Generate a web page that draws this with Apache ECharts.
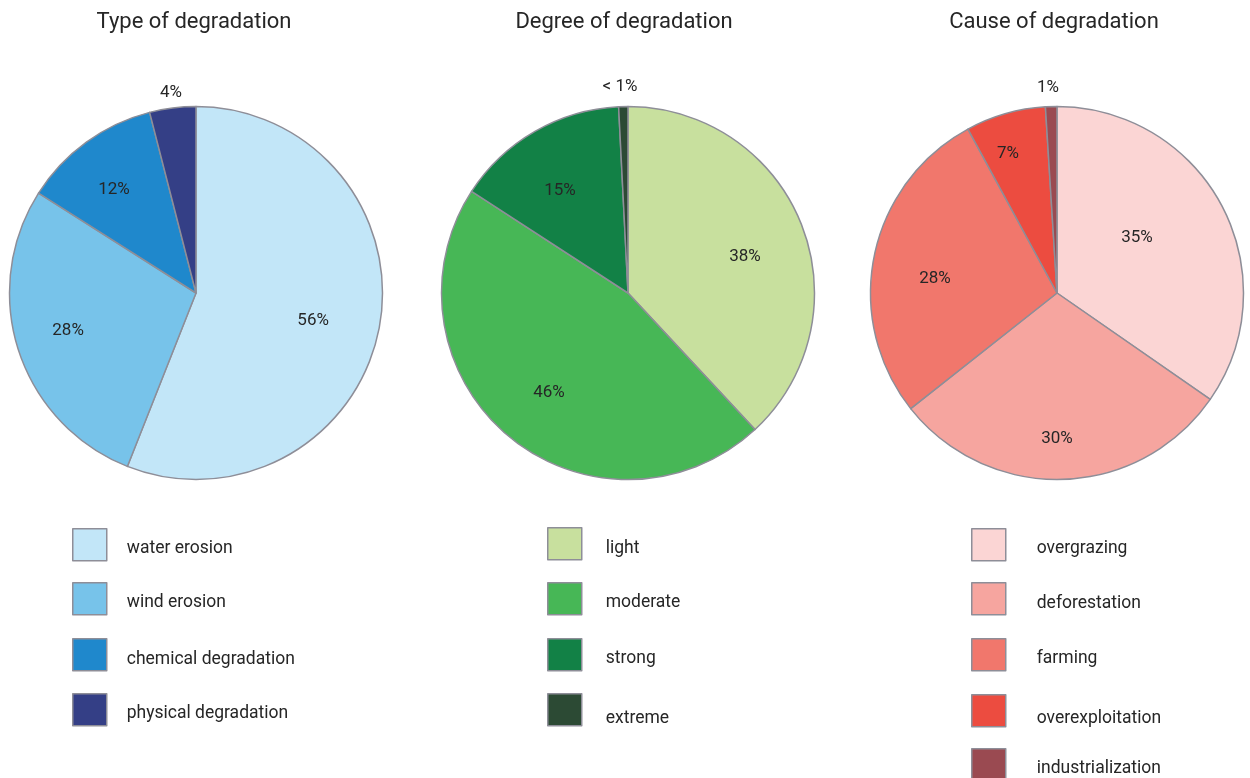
<!DOCTYPE html>
<html>
<head>
<meta charset="utf-8">
<script src="https://cdn.jsdelivr.net/npm/echarts@6/dist/echarts.min.js"></script>
<style>
  html, body { margin: 0; padding: 0; background: #ffffff; }
  #chart { width: 1250px; height: 778px; }
</style>
</head>
<body>
<div id="chart"></div>
<script>
// Share of degraded land, in percent
const titles = ['Type of degradation', 'Degree of degradation', 'Cause of degradation'];

const typeNames = ['water erosion', 'wind erosion', 'chemical degradation', 'physical degradation'];
const typeValues = [56, 28, 12, 4];

const degreeNames = ['light', 'moderate', 'strong', 'extreme'];
const degreeValues = [38, 46, 15, 0.8];

const causeNames = ['overgrazing', 'deforestation', 'farming', 'overexploitation', 'industrialization'];
const causeValues = [35, 30, 28, 7, 1];

// Colours per slice
const typeColors = ['#c2e6f8', '#77c3ea', '#1f88cc', '#343f86'];
const degreeColors = ['#c8e09e', '#47b756', '#128146', '#2c4a34'];
const causeColors = ['#fbd5d4', '#f6a59f', '#f1776c', '#ec4c40', '#9a4a51'];

// Layout: pie centres and radius
const centers = [[196, 293], [628, 293], [1057, 293]];
const radius = 186.5;
// Percentage label placement, as offsets from the pie centre in units of radius
const labelOffsets = [
  [[0.628, 0.151], [-0.686, 0.204], [-0.440, -0.552], [-0.134, -1.072]],
  [[0.627, -0.193], [-0.424, 0.536], [-0.365, -0.547], [-0.043, -1.104]],
  [[0.429, -0.295], [0.000, 0.783], [-0.654, -0.075], [-0.263, -0.745], [-0.048, -1.099]]
];
// Legend rows: icon left x, icon centre y, text shift below icon centre, gap icon->text
const legendLeft = [72, 547, 971];
const legendIconY = [
  [544, 598, 654, 709],
  [543, 598, 654, 709],
  [544, 598, 654, 710, 764]
];
const legendTextDy = [
  [4, 3.5, 4.5, 3.5],
  [4.5, 4, 4, 8.5],
  [4, 4.5, 4, 7.5, 3.5]
];
const legendGap = [20, 24, 31];

const groups = [
  { names: typeNames, values: typeValues, colors: typeColors },
  { names: degreeNames, values: degreeValues, colors: degreeColors },
  { names: causeNames, values: causeValues, colors: causeColors }
];

const textColor = '#262626';
const edgeColor = '#8e8e98';
const fontFamily = 'Roboto, "Noto Sans", sans-serif';

function pctLabel(v) {
  return v < 1 ? '< 1%' : Math.round(v) + '%';
}

const series = groups.map((g, si) => ({
  type: 'pie',
  center: centers[si],
  radius: radius,
  startAngle: 90,
  clockwise: true,
  avoidLabelOverlap: false,
  animation: false,
  emphasis: { disabled: true },
  itemStyle: { borderColor: edgeColor, borderWidth: 1.5 },
  label: {
    show: true,
    position: 'inside',
    color: textColor,
    fontSize: 17,
    fontFamily: fontFamily,
    formatter: p => pctLabel(p.value)
  },
  labelLine: { show: false },
  labelLayout: params => {
    const off = labelOffsets[si][params.dataIndex];
    return {
      x: centers[si][0] + off[0] * radius,
      y: centers[si][1] + off[1] * radius,
      align: 'center',
      verticalAlign: 'middle'
    };
  },
  data: g.names.map((n, i) => ({
    name: n,
    value: g.values[i],
    itemStyle: { color: g.colors[i] }
  }))
}));

const legends = [];
groups.forEach((g, si) => {
  g.names.forEach((n, i) => {
    legends.push({
      data: [n],
      left: legendLeft[si],
      top: legendIconY[si][i] - 16,
      orient: 'vertical',
      itemWidth: 34,
      itemHeight: 32,
      icon: 'rect',
      selectedMode: false,
      padding: 0,
      itemStyle: { borderColor: edgeColor, borderWidth: 1.5 },
      formatter: '{t|{name}}',
      textStyle: {
        padding: [legendTextDy[si][i] * 2, 0, 0, legendGap[si] - 5],
        rich: {
          t: { color: textColor, fontSize: 17.5, fontFamily: fontFamily }
        }
      }
    });
  });
});

const titleCenters = [189, 619, 1049];
const title = titles.map((t, i) => ({
  text: t,
  left: titleCenters[i],
  top: 6,
  textAlign: 'center',
  textStyle: { color: textColor, fontSize: 22, fontWeight: 'normal', fontFamily: fontFamily }
}));

const chart = echarts.init(document.getElementById('chart'), null, { renderer: 'canvas' });
chart.setOption({
  backgroundColor: '#ffffff',
  animation: false,
  title: title,
  legend: legends,
  series: series
});
</script>
</body>
</html>
